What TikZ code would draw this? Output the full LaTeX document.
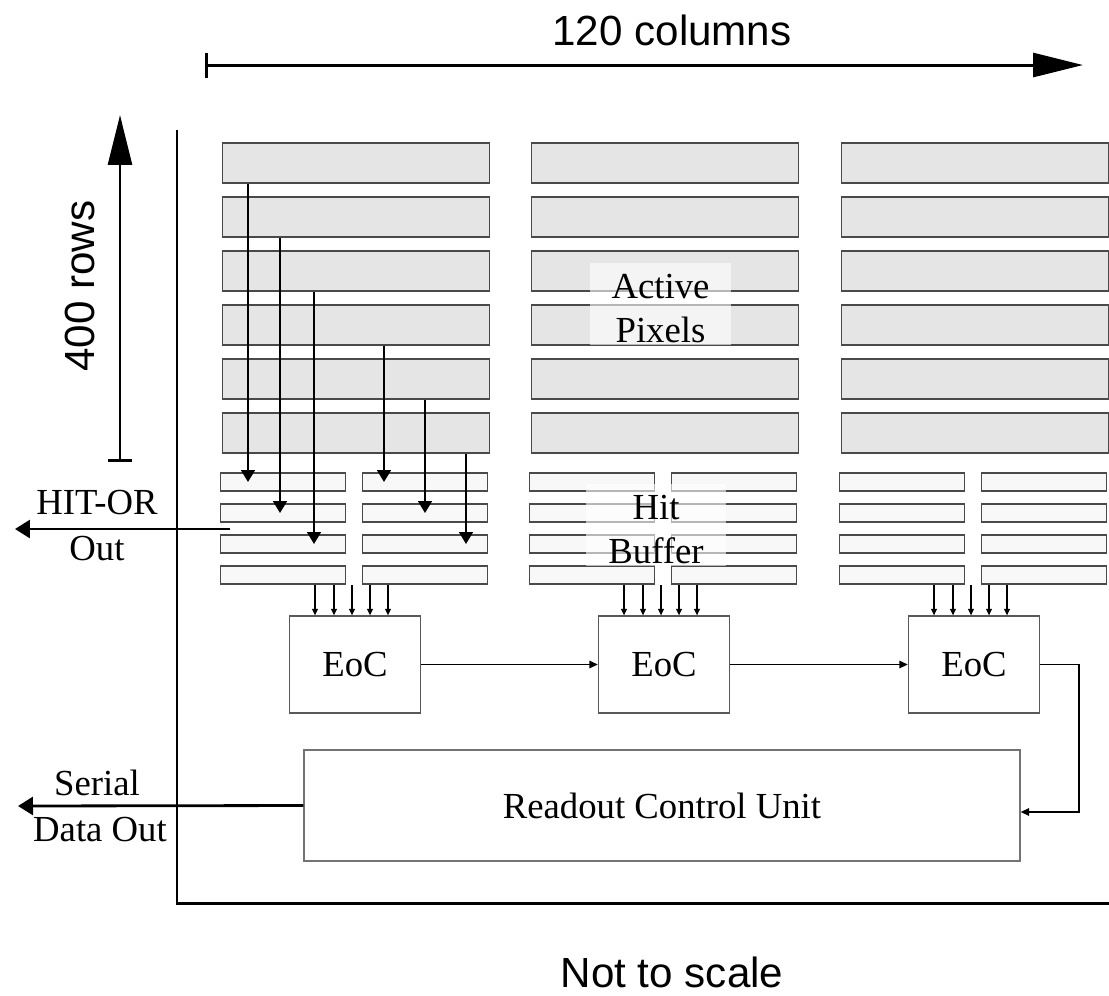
\documentclass[tikz,border=0pt]{standalone}
\usepackage{fontspec}
\setmainfont{Liberation Serif}
\setsansfont{Liberation Sans}
\usetikzlibrary{arrows.meta}
\usetikzlibrary{positioning}

\definecolor{pixgray}{HTML}{E5E5E5}
\definecolor{bufgray}{HTML}{F8F8F8}
\definecolor{edgegray}{HTML}{4A4A4A}
\newcommand\boxfont{\fontsize{20.9}{25.5}\selectfont}
\newcommand\dimfont{\sffamily\fontsize{24}{28}\selectfont}

\tikzset{
  pixrow/.style={draw=edgegray, fill=pixgray, line width=0.9pt, minimum width=5.34cm, minimum height=0.8cm, inner sep=0pt},
  bufrow/.style={draw=edgegray, fill=bufgray, line width=0.9pt, minimum width=2.5cm, minimum height=0.36cm, inner sep=0pt},
  eocbox/.style={draw=black!65, line width=0.8pt, minimum width=2.62cm, minimum height=1.94cm, font=\boxfont},
  rcubox/.style={draw=black!55, line width=0.8pt, minimum width=14.32cm, minimum height=2.22cm, font=\boxfont},
  labelbg/.style={fill=white, fill opacity=0.6, inner sep=0pt, minimum width=2.82cm, minimum height=1.64cm},
  labeltext/.style={align=center, inner sep=0pt, font=\boxfont},
  plain/.style={font=\boxfont, inner sep=0pt},
  downarrow/.style={line width=0.9pt, -{Triangle[length=0.24cm,width=0.28cm]}},
  smallarrow/.style={line width=0.6pt, -{Triangle[length=0.13cm,width=0.12cm]}},
  linkarrow/.style={line width=0.8pt, -{Triangle[length=0.17cm,width=0.15cm]}},
  outarrow/.style={line width=1.6pt, -{Triangle[length=0.3cm,width=0.36cm]}},
  dimarrow/.style={line width=1.7pt, {Bar[width=0.5cm]}-{Triangle[length=1cm,width=0.48cm]}},
}

\begin{document}
\begin{tikzpicture}[x=0.02cm,y=-0.02cm]
\useasboundingbox (0,0) rectangle (1109,995);
%% pixel rows, hit buffers and end of column blocks
\foreach \c/\cx in {1/356,2/665,3/975}{
  \foreach \r in {1,...,6}
    \node[pixrow] (px-\c-\r) at (\cx,{163+54*(\r-1)}) {};
  \foreach \r in {1,...,4}{
    \node[bufrow] (bl-\c-\r) at (\cx-73,{482+31*(\r-1)}) {};
    \node[bufrow] (br-\c-\r) at (\cx+69,{482+31*(\r-1)}) {};
  }
  \node[eocbox] (eoc-\c) at (\cx-1,664.5) {EoC};
  \foreach \o in {-41,-22,-4,14,32}
    \draw[smallarrow] (bl-\c-4.south -| \cx+\o,0) -- (eoc-\c.north -| \cx+\o,0);
}
\node[rcubox] (rcu) at (662,805.5) {Readout Control Unit};
%% hits going down into the buffers
\foreach \p/\b/\x in {1/bl-1-1/248,2/bl-1-2/280,3/bl-1-3/314,4/br-1-1/384,5/br-1-2/425,6/br-1-3/466}
  \draw[downarrow] (px-1-\p.south -| \x,0) -- (\b.center -| \x,0);
%% labels
\node[labelbg] (bg-pix) at (660.5,304) {};
\node[labeltext] (lbl-pix) at (660.5,308.5) {Active\\Pixels};
\node[labelbg] (bg-buf) at (656,525) {};
\node[labeltext] (lbl-buf) at (656,529.5) {Hit\\Buffer};
%% chain
\draw[linkarrow] (eoc-1) -- (eoc-2);
\draw[linkarrow] (eoc-2) -- (eoc-3);
\draw[linkarrow] (eoc-3.east) -- ++(39,0) |- (rcu.east |- 0,812);
%% frame and dimensions
\coordinate (ax-top) at (177,130);
\coordinate (ax-corner) at (177,903);
\coordinate (ax-right) at (1109,903);
\draw[line width=1.7pt] (ax-top) -- (ax-corner) -- (ax-right);
\coordinate (col-a) at (205,65);
\coordinate (col-b) at (1083,65);
\draw[dimarrow] (col-a) -- (col-b);
\node[font=\dimfont] (cols) at (672,30) {120 columns};
\coordinate (row-a) at (120,462);
\coordinate (row-b) at (120,115);
\draw[dimarrow] (row-a) -- (row-b);
\node[font=\dimfont, rotate=90] (rows) at (80,286) {400 rows};
\node[font=\dimfont] (scale) at (672,972) {Not to scale};
%% outputs
\coordinate (hit-src) at (230,529);
\coordinate (hit-out) at (15,529);
\draw[outarrow] (hit-src) -- (hit-out);
\node[plain] (hitor) at (97,503) {HIT-OR};
\node[plain] (hitout) at (97,549) {Out};
\coordinate (ser-out) at (18,806);
\draw[outarrow] (rcu.west) -- (ser-out);
\node[plain] (serial) at (97,783) {Serial};
\node[plain] (dataout) at (100,830) {Data Out};
%
\end{tikzpicture}
\end{document}
